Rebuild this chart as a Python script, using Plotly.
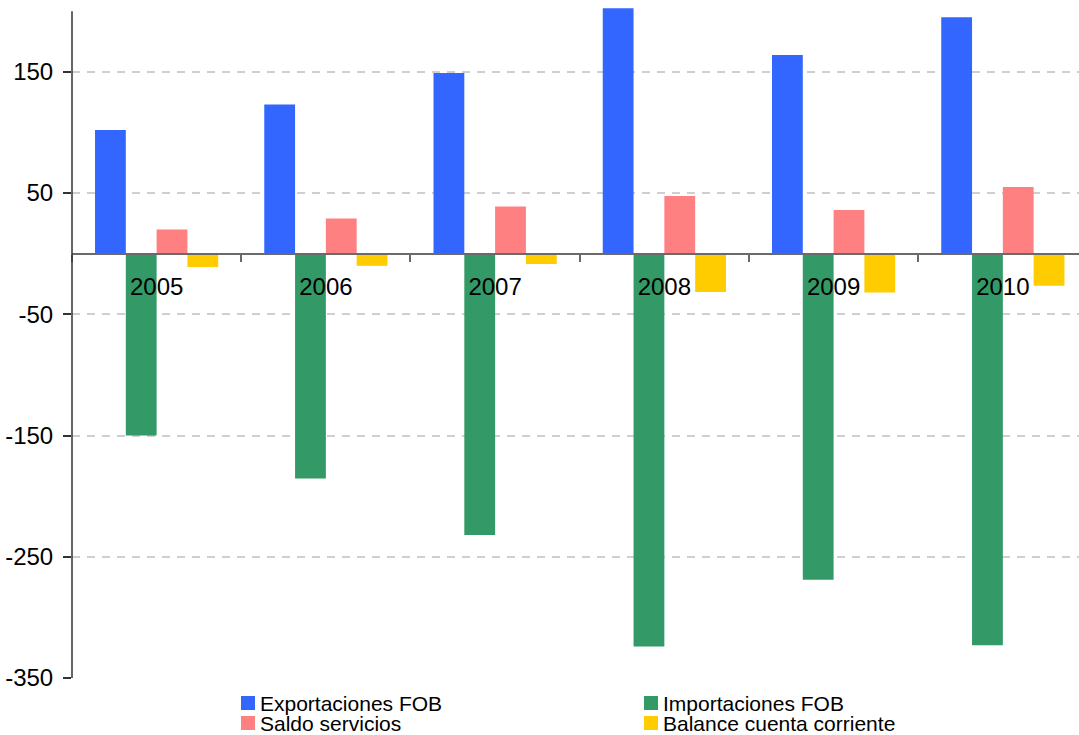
import plotly.graph_objects as go

# Balance of payments components by year
years = ["2005", "2006", "2007", "2008", "2009", "2010"]
exportaciones_fob = [102, 123, 149, 202.5, 164, 195]
importaciones_fob = [-150, -185.5, -232, -324, -269, -323]
saldo_servicios = [20, 29, 39, 47.5, 36, 55]
balance_cuenta_corriente = [-11, -10, -8.5, -31.5, -32, -26.5]

series_names = ["Exportaciones FOB", "Importaciones FOB",
                "Saldo servicios", "Balance cuenta corriente"]
series_values = [exportaciones_fob, importaciones_fob,
                 saldo_servicios, balance_cuenta_corriente]
series_colors = ["#3366FF", "#339966", "#FF8080", "#FFCC00"]

y_tick_values = [150, 50, -50, -150, -250, -350]
y_tick_labels = ["150", "50", "-50", "-150", "-250", "-350"]

Y_MIN, Y_MAX = -350, 203.5
FONT = "Liberation Sans, Arial, sans-serif"

fig = go.Figure()
for name, vals, color in zip(series_names, series_values, series_colors):
    fig.add_trace(go.Bar(x=years, y=vals, name=name,
                         marker=dict(color=color, line=dict(width=0)),
                         showlegend=False))

fig.update_layout(
    width=1079, height=735,
    margin=dict(l=72, r=0, t=7, b=57),
    paper_bgcolor="white", plot_bgcolor="white",
    barmode="group", bargap=0.272, bargroupgap=0,
    font=dict(family=FONT, size=24, color="black"),
)

fig.update_xaxes(
    type="category", range=[-0.5, 5.45],
    anchor="free", position=(0 - Y_MIN) / (Y_MAX - Y_MIN),
    showline=True, linecolor="#6a6a6a", linewidth=2,
    ticks="outside", tickson="boundaries", ticklen=7, tickwidth=2,
    tickcolor="#6a6a6a", showgrid=False, ticklabelstandoff=11,
    tickfont=dict(family=FONT, size=24, color="black"),
)

fig.update_yaxes(
    range=[Y_MIN, Y_MAX],
    tickvals=y_tick_values, ticktext=y_tick_labels,
    ticks="outside", ticklen=8, tickwidth=1.5, tickcolor="#333333",
    ticklabelstandoff=5,
    showline=False, zeroline=False,
    showgrid=True, gridcolor="#cfcfcf", gridwidth=1.5, griddash="8px,7px",
    tickfont=dict(family=FONT, size=24, color="black"),
)

# vertical axis line spanning the labelled range
fig.add_shape(type="line", xref="paper", yref="y", x0=0, x1=0,
              y0=Y_MIN, y1=200, line=dict(color="#333333", width=1.5),
              layer="above")

# two-column legend below the plot
plot_w = 1079 - 72
plot_h = 735 - 7 - 57
plot_bottom_px = 7 + plot_h


def px_to_paper_x(px):
    return (px - 72) / plot_w


def px_to_paper_y(py):
    return (plot_bottom_px - py) / plot_h


legend_cols = [241, 644]
legend_rows = [696, 716]
for i, (name, color) in enumerate(zip(series_names, series_colors)):
    col = legend_cols[i % 2]
    row = legend_rows[i // 2]
    fig.add_shape(type="rect", xref="paper", yref="paper",
                  x0=px_to_paper_x(col), x1=px_to_paper_x(col + 14),
                  y0=px_to_paper_y(row), y1=px_to_paper_y(row + 14),
                  fillcolor=color, line=dict(width=0))
    fig.add_annotation(xref="paper", yref="paper",
                       x=px_to_paper_x(col + 18), y=px_to_paper_y(row + 7),
                       xanchor="left", yanchor="middle", showarrow=False,
                       borderpad=0,
                       text=name, font=dict(family=FONT, size=21, color="black"))

fig.write_html("out.html")
